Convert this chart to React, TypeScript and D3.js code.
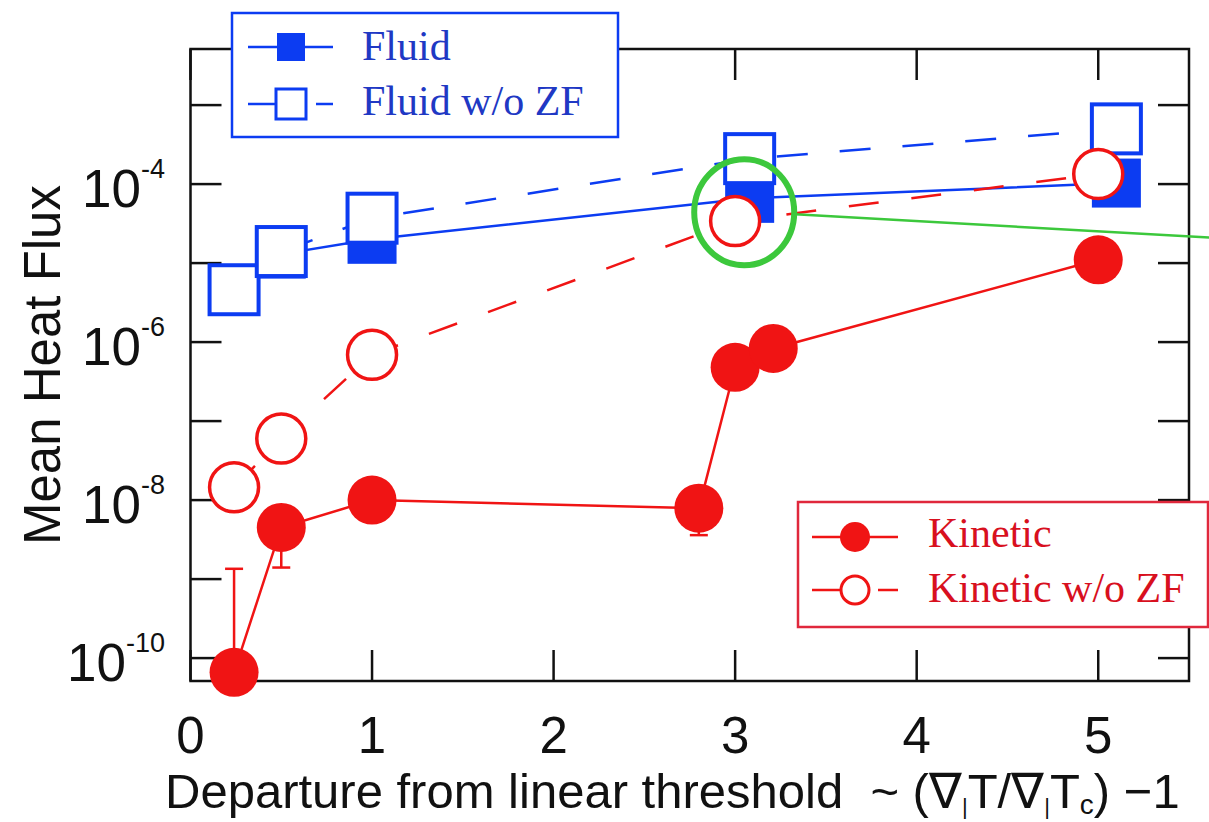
import React from "react";
import * as d3 from "d3";

const W = 1209;
const H = 822;
const plot = { left: 190.5, right: 1189, top: 49, bottom: 681 };

// Fluid runs (with and without zonal flows)
const fluidX = [0.24, 0.5, 1, 3.08, 5.1];
const fluidY = [4.6e-6, 1.3e-5, 2.0e-5, 6.6e-5, 1.03e-4];
const fluidNoZfX = [0.24, 0.5, 1, 3.08, 5.1];
const fluidNoZfY = [4.6e-6, 1.4e-5, 3.7e-5, 2.1e-4, 5.0e-4];

// Kinetic runs (with and without zonal flows)
const kineticX = [0.24, 0.5, 1, 2.8, 3.0, 3.21, 5];
const kineticY = [6.6e-11, 4.5e-9, 1.0e-8, 7.9e-9, 4.8e-7, 8.3e-7, 1.1e-5];
const kineticNoZfX = [0.24, 0.5, 1, 3, 5];
const kineticNoZfY = [1.45e-8, 6.0e-8, 6.9e-7, 3.4e-5, 1.34e-4];

// Error bars on selected kinetic runs
const kineticErrX = [0.24, 0.5, 2.8];
const kineticErrLo = [6.6e-11, 1.4e-9, 3.6e-9];
const kineticErrHi = [1.35e-9, 4.5e-9, 7.9e-9];

// Highlighted point and leader line
const highlightX = 3.05;
const highlightY = 4.4e-5;
const leaderEndX = 5.62;
const leaderEndY = 2.1e-5;

const xTicks = [0, 1, 2, 3, 4, 5];
const yTickExps = [-10, -9, -8, -7, -6, -5, -4, -3];
const yLabelExps = [-10, -8, -6, -4];

const fluidLegend = ["Fluid", "Fluid w/o ZF"];
const kineticLegend = ["Kinetic", "Kinetic w/o ZF"];

const BLUE = "#0c3cf2";
const BLUE_TEXT = "#2038c4";
const RED = "#f01414";
const RED_TEXT = "#d8101e";
const RED_BOX = "#e0283c";
const GREEN = "#3cc83c";

const SANS = "'Liberation Sans', Arial, Helvetica, sans-serif";
const SERIF = "'Liberation Serif', 'Times New Roman', serif";

const x = d3.scaleLinear().domain([0, 5.5]).range([plot.left, plot.right]);
const y = d3
  .scaleLog()
  .domain([Math.pow(10, -10.29), Math.pow(10, -2.29)])
  .range([plot.bottom, plot.top]);

const zip = (xs: number[], ys: number[]) => xs.map((v, i) => [v, ys[i]] as [number, number]);
const line = d3
  .line<[number, number]>()
  .x((d) => x(d[0]))
  .y((d) => y(d[1]));

const TICK = 31;
const SQ = 49;
const R = 24.5;

export default function App() {
  const fluid = zip(fluidX, fluidY);
  const fluidNoZf = zip(fluidNoZfX, fluidNoZfY);
  const kinetic = zip(kineticX, kineticY);
  const kineticNoZf = zip(kineticNoZfX, kineticNoZfY);

  const hx = x(highlightX);
  const hy = y(highlightY);
  const hr = 51;

  return (
    <svg
      width={W}
      height={H}
      viewBox={`0 0 ${W} ${H}`}
      style={{ position: "absolute", left: 0, top: 0, background: "#fff" }}
    >
      <rect x={0} y={0} width={W} height={H} fill="#fff" />

      {/* axis ticks, inward on all four sides */}
      <g stroke="#111" strokeWidth={2.5}>
        {xTicks.map((t) => (
          <g key={"xt" + t}>
            <line x1={x(t)} x2={x(t)} y1={plot.bottom} y2={plot.bottom - TICK} />
            <line x1={x(t)} x2={x(t)} y1={plot.top} y2={plot.top + TICK} />
          </g>
        ))}
        {yTickExps.map((e) => (
          <g key={"yt" + e}>
            <line x1={plot.left} x2={plot.left + TICK} y1={y(Math.pow(10, e))} y2={y(Math.pow(10, e))} />
            <line x1={plot.right} x2={plot.right - TICK} y1={y(Math.pow(10, e))} y2={y(Math.pow(10, e))} />
          </g>
        ))}
        <rect
          x={plot.left}
          y={plot.top}
          width={plot.right - plot.left}
          height={plot.bottom - plot.top}
          fill="none"
        />
      </g>

      {/* tick labels */}
      <g fontFamily={SANS} fill="#111">
        {xTicks.map((t) => (
          <text key={"xl" + t} x={x(t)} y={753} fontSize={51} textAnchor="middle">
            {t}
          </text>
        ))}
        {yLabelExps.map((e) => (
          <text key={"yl" + e} x={165} y={y(Math.pow(10, e)) + 23} fontSize={53} textAnchor="end">
            10
            <tspan dy={-29} fontSize={27}>
              {"-" + -e}
            </tspan>
          </text>
        ))}
      </g>

      {/* axis titles */}
      <text
        transform={`translate(60, ${(plot.top + plot.bottom) / 2}) rotate(-90)`}
        textAnchor="middle"
        fontFamily={SANS}
        fontSize={51}
        fill="#111"
      >
        Mean Heat Flux
      </text>
      <text x={165} y={808} fontFamily={SANS} fontSize={49} fill="#111" style={{ whiteSpace: "pre" }}>
        {"Departure from linear threshold  ~ ("}
        {"∇"}
        <tspan dy={6} fontSize={22}>|</tspan>
        <tspan dy={-6}>T/∇</tspan>
        <tspan dy={6} fontSize={22}>|</tspan>
        <tspan dy={-6}>T</tspan>
        <tspan dy={6} fontSize={28}>c</tspan>
        <tspan dy={-6}>{") −1"}</tspan>
      </text>

      {/* Fluid: solid line, filled squares */}
      <path d={line(fluid) ?? ""} fill="none" stroke={BLUE} strokeWidth={2.5} />
      {fluid.map((d, i) => (
        <rect key={"f" + i} x={x(d[0]) - SQ / 2} y={y(d[1]) - SQ / 2} width={SQ} height={SQ} fill={BLUE} />
      ))}

      {/* Fluid w/o ZF: dashed line, open squares */}
      <path d={line(fluidNoZf) ?? ""} fill="none" stroke={BLUE} strokeWidth={2.5} strokeDasharray="31 32" />
      {fluidNoZf.map((d, i) => (
        <rect
          key={"fo" + i}
          x={x(d[0]) - SQ / 2}
          y={y(d[1]) - SQ / 2}
          width={SQ}
          height={SQ}
          fill="#fff"
          stroke={BLUE}
          strokeWidth={4}
        />
      ))}

      {/* Kinetic: error bars, solid line, filled circles */}
      <g stroke={RED} strokeWidth={2.5}>
        {kineticErrX.map((ex, i) => {
          const cx = x(ex);
          return (
            <g key={"e" + i}>
              <line x1={cx} x2={cx} y1={y(kineticErrLo[i])} y2={y(kineticErrHi[i])} />
              <line x1={cx - 9} x2={cx + 9} y1={y(kineticErrLo[i])} y2={y(kineticErrLo[i])} />
              <line x1={cx - 9} x2={cx + 9} y1={y(kineticErrHi[i])} y2={y(kineticErrHi[i])} />
            </g>
          );
        })}
      </g>
      <path d={line(kinetic) ?? ""} fill="none" stroke={RED} strokeWidth={2.5} />
      {kinetic.map((d, i) => (
        <circle key={"k" + i} cx={x(d[0])} cy={y(d[1])} r={R} fill={RED} />
      ))}

      {/* Kinetic w/o ZF: dashed line, open circles */}
      <path d={line(kineticNoZf) ?? ""} fill="none" stroke={RED} strokeWidth={2.5} strokeDasharray="30 33" />
      {kineticNoZf.map((d, i) => (
        <circle key={"ko" + i} cx={x(d[0])} cy={y(d[1])} r={R} fill="#fff" stroke={RED} strokeWidth={3.5} />
      ))}

      {/* highlight ring and leader */}
      <line
        x1={hx + hr}
        y1={hy + 2}
        x2={x(leaderEndX)}
        y2={y(leaderEndY)}
        stroke={GREEN}
        strokeWidth={2.5}
      />
      <ellipse cx={hx} cy={hy} rx={hr - 1} ry={hr + 2} fill="none" stroke={GREEN} strokeWidth={6} />

      {/* legend: fluid */}
      <g>
        <rect x={232} y={13} width={386} height={124} fill="#fff" stroke={BLUE} strokeWidth={2.5} />
        <line x1={248} x2={333} y1={47} y2={47} stroke={BLUE} strokeWidth={2.5} />
        <rect x={291 - 14} y={47 - 14} width={28} height={28} fill={BLUE} />
        <line x1={248} x2={333} y1={104} y2={104} stroke={BLUE} strokeWidth={2.5} strokeDasharray="30 38 17" />
        <rect x={291 - 15} y={104 - 15} width={30} height={30} fill="#fff" stroke={BLUE} strokeWidth={3} />
        {fluidLegend.map((s, i) => (
          <text key={s} x={362} y={60 + i * 55} fontFamily={SERIF} fontSize={42} fill={BLUE_TEXT}>
            {s}
          </text>
        ))}
      </g>

      {/* legend: kinetic */}
      <g>
        <rect x={798} y={502} width={410} height={125} fill="#fff" stroke={RED_BOX} strokeWidth={2.5} />
        <line x1={812} x2={898} y1={537} y2={537} stroke={RED} strokeWidth={2.5} />
        <circle cx={855} cy={537} r={15} fill={RED} />
        <line x1={812} x2={898} y1={590} y2={590} stroke={RED} strokeWidth={2.5} strokeDasharray="28 38 20" />
        <circle cx={855} cy={590} r={14} fill="#fff" stroke={RED} strokeWidth={3} />
        {kineticLegend.map((s, i) => (
          <text key={s} x={928} y={547 + i * 55} fontFamily={SERIF} fontSize={42} fill={RED_TEXT}>
            {s}
          </text>
        ))}
      </g>
    </svg>
  );
}
